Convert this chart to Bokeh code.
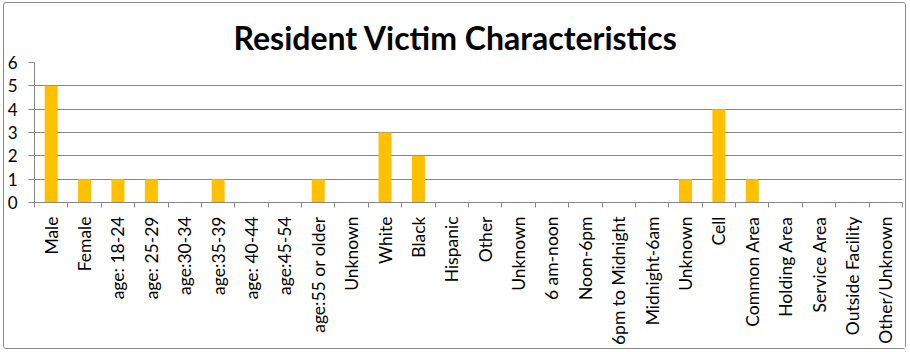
import math
from bokeh.plotting import figure
from bokeh.models import Range1d, FixedTicker
from bokeh.embed import file_html
from bokeh.resources import INLINE

categories = ["Male", "Female", "age: 18-24", "age: 25-29", "age:30-34", "age:35-39",
              "age: 40-44", "age:45-54", "age:55 or older", "Unknown", "White", "Black",
              "Hispanic", "Other", "Unknown", "6 am-noon", "Noon-6pm", "6pm to Midnight",
              "Midnight-6am", "Unknown", "Cell", "Common Area", "Holding Area",
              "Service Area", "Outside Facility", "Other/Unknown"]
values = [5, 1, 1, 1, 0, 1, 0, 0, 1, 0, 3, 2, 0, 0, 0, 0, 0, 0, 0, 1, 4, 1, 0, 0, 0, 0]
y_ticks = [0, 1, 2, 3, 4, 5, 6]
title_text = "Resident Victim Characteristics"

n = len(categories)
xs = list(range(1, n + 1))

p = figure(width=903, height=347, output_backend="svg", toolbar_location=None,
           x_range=Range1d(0.5, n + 0.5), y_range=Range1d(0, 6),
           min_border_left=30, min_border_right=5, min_border_top=59, min_border_bottom=148)
p.styles = {"border": "1px solid #898989", "border-radius": "3px", "margin-left": "3px", "margin-top": "2px"}

p.title.text = title_text
p.title.align = "left"
p.title.offset = 199
p.title.text_font = "Lato"
p.title.text_font_size = "32px"
p.title.text_font_style = "bold"
p.title.text_color = "#000000"
p.title.standoff = 11

p.vbar(x=xs, top=values, width=0.39, color="#FFC000", line_color=None)

p.outline_line_color = None
p.background_fill_color = "white"
p.border_fill_color = "white"

p.xgrid.grid_line_color = None
p.ygrid.grid_line_color = "#868686"
p.ygrid.grid_line_width = 1

p.yaxis.ticker = FixedTicker(ticks=y_ticks)
p.yaxis.axis_line_color = "#868686"
p.yaxis.major_tick_line_color = "#868686"
p.yaxis.major_tick_out = 6
p.yaxis.major_tick_in = 0
p.yaxis.minor_tick_line_color = None
p.yaxis.major_label_text_font = "Lato"
p.yaxis.major_label_text_font_size = "17px"
p.yaxis.major_label_text_color = "#000000"
p.yaxis.major_label_standoff = 11

p.xaxis.ticker = FixedTicker(ticks=xs, minor_ticks=[i + 0.5 for i in range(0, n + 1)])
p.xaxis.major_label_overrides = {x: c for x, c in zip(xs, categories)}
p.xaxis.axis_line_color = "#868686"
p.xaxis.major_tick_line_color = None
p.xaxis.major_tick_out = 0
p.xaxis.major_tick_in = 0
p.xaxis.minor_tick_line_color = "#868686"
p.xaxis.minor_tick_out = 5
p.xaxis.minor_tick_in = 0
p.xaxis.major_label_orientation = math.pi / 2
p.xaxis.major_label_text_font = "Lato"
p.xaxis.major_label_text_font_size = "17.5px"
p.xaxis.major_label_text_color = "#000000"
p.xaxis.major_label_standoff = 9

open("out.html", "w").write(file_html(p, INLINE))
